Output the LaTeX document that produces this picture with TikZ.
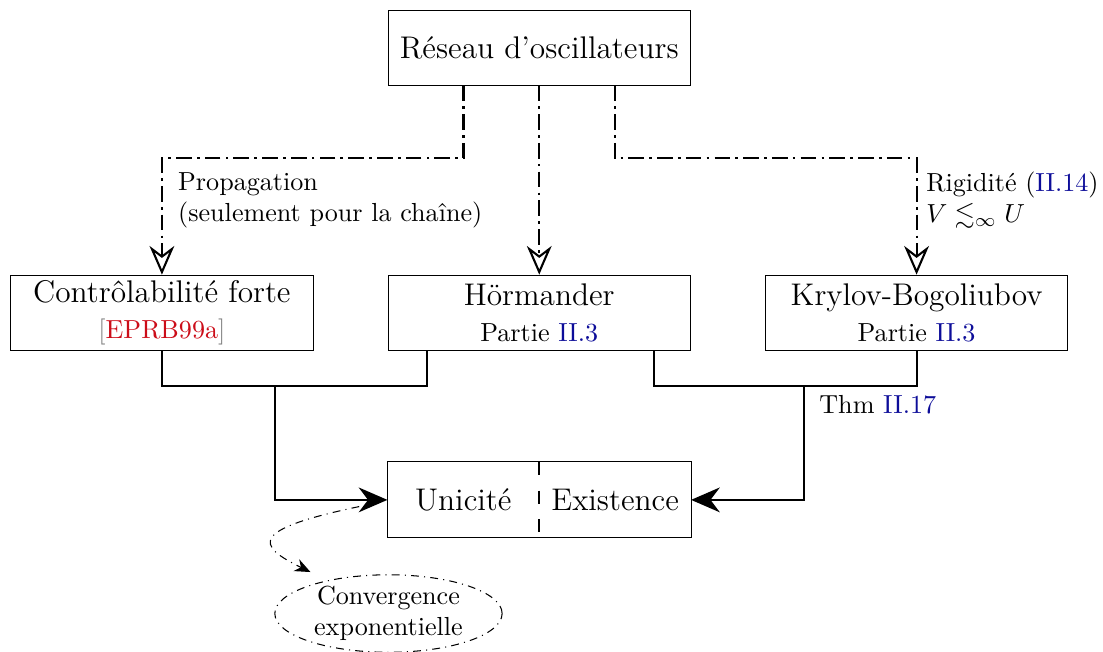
\documentclass[tikz,border=0pt]{standalone}
\usepackage{fontspec}
\usepackage{amsmath,amssymb}
\usepackage{tikz}
\usetikzlibrary{arrows,arrows.meta,shapes.geometric}
\definecolor{cred}{rgb}{0.8, 0.05, 0.1}
\definecolor{cblue}{rgb}{0.05, 0.05, 0.6}

\begin{document}
\begin{tikzpicture}[-,auto,node distance=3.57cm,
  box node/.style={rectangle,draw,minimum width=4.07cm,minimum height=1.01cm,inner sep=0pt,align=center,font=\large},
  half node/.style={rectangle,minimum width=2.03cm,minimum height=1.01cm,inner sep=0pt,font=\large},
  conv node/.style={ellipse,draw,dash dot,minimum width=3.06cm,minimum height=0.97cm,inner sep=0pt,align=center},
  ddash/.style={thick,dash pattern=on 6pt off 2pt on 1pt off 2pt,-{Stealth[open,length=11pt,width=9.5pt]}},
  link/.style={thick},
  big tip/.style={-{Stealth[length=11pt,width=9.5pt]}}]
  \useasboundingbox (0,0) rectangle (14.85,8.77);
  \node[box node] (res) at (7.26,8.13) {Réseau d'oscillateurs};
  \node[box node] (horm) [below of=res] {Hörmander\\{\normalsize Partie \textcolor{cblue}{II.3}}};
  \node[box node] (ctrl) [left of=horm, node distance=5.08cm] {Contrôlabilité forte\\{\normalsize\textcolor{gray}{[}\textcolor{cred}{EPRB99a}\textcolor{gray}{]}}};
  \node[box node] (kry) [right of=horm, node distance=5.08cm] {Krylov-Bogoliubov\\{\normalsize Partie \textcolor{cblue}{II.3}}};
  \coordinate (bot) at ([yshift=-2.52cm]horm.center);
  \node[half node, anchor=east] (uni) at (bot) {Unicité};
  \node[half node, anchor=west] (exi) at (bot) {Existence};
  \node[conv node] (conv) at (5.23,0.51) {Convergence\\exponentielle};

  \draw (uni.north west) rectangle (exi.south east);
  \draw[thick,dash pattern=on 5pt off 6pt] (uni.north east) -- (uni.south east);

  % from the network
  \draw[ddash] ([xshift=-1.02cm]res.south) -- ++(0,-0.98) -| (ctrl.north)
    node[pos=0.68,right,xshift=2.5pt,align=left] {Propagation\\(seulement pour la chaîne)};
  \draw[ddash] (res) -- (horm);
  \draw[ddash] ([xshift=1.02cm]res.south) -- ++(0,-0.98) -| (kry.north)
    node[pos=0.68,right,align=left] {Rigidité (\textcolor{cblue}{II.14})\\$V \lesssim_\infty U$};

  % to uniqueness and existence
  \coordinate (jl) at (3.70,3.58);
  \coordinate (jr) at (10.83,3.58);
  \draw[link] (ctrl.south) -- ++(0,-0.47) -| ([xshift=-1.51cm]horm.south);
  \draw[link] ([xshift=1.54cm]horm.south) -- ++(0,-0.47) -| (kry.south);
  \draw[link,big tip] (jl) |- (uni.west);
  \draw[link,big tip] (jr) node[below right,xshift=2pt] {Thm \textcolor{cblue}{II.17}} |- (exi.east);

  \draw[dash dot,-{Stealth[length=6pt,width=5pt]}] ([shift={(-0.38,-0.09)}]uni.west)
    .. controls +(-1.48,-0.31) and +(-0.74,0.36) .. ([shift={(-1.05,0.03)}]conv.north);
\end{tikzpicture}
\end{document}
